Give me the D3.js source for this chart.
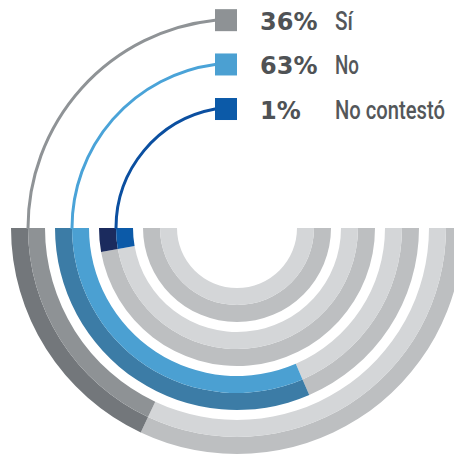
<!DOCTYPE html>
<html>
<head>
<meta charset="utf-8">
<script src="https://cdn.jsdelivr.net/npm/d3@7"></script>
<style>
  html, body { margin: 0; padding: 0; background: #ffffff; }
  svg { display: block; }
</style>
</head>
<body>
<svg id="chart" width="454" height="457"></svg>
<script>
// ---- data ----
const categories = ["Sí", "No", "No contestó"];
const values = [36, 63, 1];
const valueLabels = ["36%", "63%", "1%"];
const ringCount = 4; // 3 answer rings + 1 empty inner ring

// ---- styles ----
const outerColors = ["#73777b", "#3c7ca6", "#1b2b5e"];
const innerColors = ["#8e9295", "#4ba0d2", "#0c5aa8"];
const lineColors  = ["#8f9396", "#4aa3d8", "#0b4fa0"];
const restOuter = "#bdbfc1";
const restInner = "#d4d6d8";

const W = 454, H = 457;
const cx = 237, cy = 228;
const outerR = 226, pitch = 44, ringW = 34;
const legendX = 215, sq = 22;

const svg = d3.select("#chart");
const g = svg.append("g").attr("transform", `translate(${cx},${cy})`);

// angle scale: percent -> sweep of the half ring
const angle = d3.scaleLinear().domain([0, 100]).range([0, Math.PI]);
const minSweep = Math.PI / 18;
const LEFT = 3 * Math.PI / 2, RIGHT = Math.PI / 2;

const arc = d3.arc();
const half = ringW / 2;

d3.range(ringCount).forEach(i => {
  const ro = outerR - i * pitch;
  const rm = ro - half;
  const ri = ro - ringW;
  const v = i < values.length ? values[i] : 0;
  const sweep = v > 0 ? Math.max(angle(v), minSweep) : 0;
  const endA = LEFT - sweep;
  // grey remainder
  g.append("path").attr("d", arc({innerRadius: rm, outerRadius: ro, startAngle: endA, endAngle: RIGHT})).attr("fill", restOuter);
  g.append("path").attr("d", arc({innerRadius: ri, outerRadius: rm, startAngle: endA, endAngle: RIGHT})).attr("fill", restInner);
  if (sweep > 0) {
    g.append("path").attr("d", arc({innerRadius: rm, outerRadius: ro, startAngle: LEFT, endAngle: endA})).attr("fill", outerColors[i]);
    g.append("path").attr("d", arc({innerRadius: ri, outerRadius: rm, startAngle: LEFT, endAngle: endA})).attr("fill", innerColors[i]);
  }
});

// connectors + legend
values.forEach((v, i) => {
  const r = outerR - i * pitch - half;
  const dx = legendX - cx;
  const phi = 2 * Math.PI - Math.acos(dx / r);
  const ey = r * Math.sin(phi);
  const p = d3.path();
  p.moveTo(-r, 1);
  p.lineTo(-r, 0);
  p.arc(0, 0, r, Math.PI, phi, false);
  p.lineTo(dx + 2, ey);
  g.append("path").attr("d", p.toString())
    .attr("fill", "none").attr("stroke", lineColors[i]).attr("stroke-width", 3);

  const yc = cy + ey;
  svg.append("rect")
    .attr("x", legendX).attr("y", yc - sq / 2)
    .attr("width", sq).attr("height", sq)
    .attr("fill", innerColors[i]);

  svg.append("text")
    .attr("x", 260).attr("y", yc + 10)
    .attr("font-family", "'DejaVu Sans', sans-serif")
    .attr("font-weight", "bold")
    .attr("font-size", 24)
    .attr("fill", "#4f5255")
    .text(valueLabels[i]);

  // condensed label: horizontally squeezed text
  const lbl = svg.append("text")
    .attr("x", 0).attr("y", 0)
    .attr("font-family", "'Liberation Sans Narrow', Roboto, 'Liberation Sans', sans-serif")
    .attr("font-size", 25)
    .attr("font-weight", 500)
    .attr("fill", "#54575a")
    .text(categories[i]);
  const target = [18, 24, 110][i];
  const natural = lbl.node().getComputedTextLength();
  const sx = Math.min(1, target / natural);
  lbl.attr("transform", `translate(335,${yc + 10}) scale(${sx},1)`);
});
</script>
</body>
</html>
